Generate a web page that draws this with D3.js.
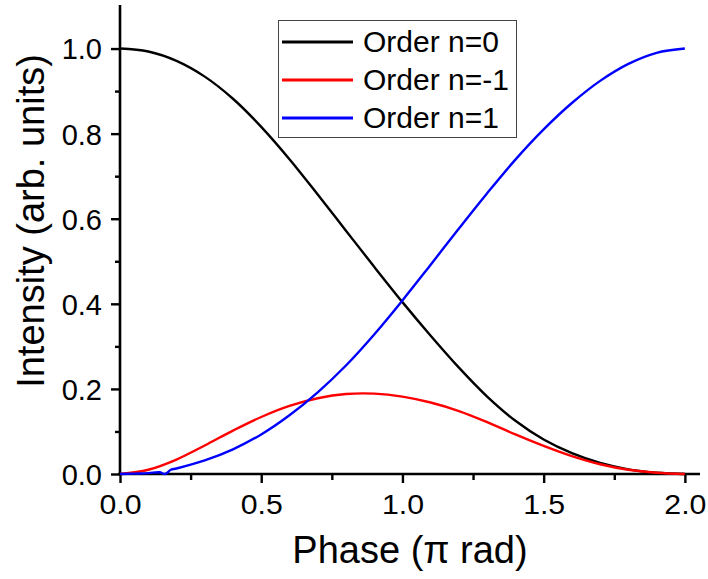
<html>
<script src="https://d3js.org/d3.v7.min.js"></script>
<style>
body { margin: 0; background: #fff; }
text { font-family: "Liberation Sans", Arial, sans-serif; fill: #000; }
</style>
<body>
<svg id="chart" width="708" height="579"></svg>
<script>
// phase values (pi rad) and the three diffraction orders
var phase = [0, 0.1, 0.2, 0.3, 0.4, 0.5, 0.6, 0.7, 0.8, 0.9, 1.0, 1.1, 1.2, 1.3, 1.4, 1.5, 1.6, 1.7, 1.8, 1.9, 2.0]
var order0 = [1.000, 0.993, 0.971, 0.934, 0.882, 0.816, 0.740, 0.657, 0.572, 0.487, 0.404, 0.325, 0.250, 0.182, 0.125, 0.081, 0.049, 0.026, 0.011, 0.003, 0.000]
var orderM1 = [0, 0.010, 0.034, 0.067, 0.102, 0.134, 0.160, 0.178, 0.188, 0.189, 0.182, 0.168, 0.148, 0.122, 0.093, 0.066, 0.042, 0.023, 0.010, 0.003, 0]
// n=1 has a small glitch near 0.15
var phaseP1 = [0, 0.05, 0.1, 0.14, 0.16, 0.18, 0.2, 0.3, 0.4, 0.5, 0.6, 0.7, 0.8, 0.9, 1.0, 1.1, 1.2, 1.3, 1.4, 1.5, 1.6, 1.7, 1.8, 1.9, 2.0]
var orderP1 = [0, 0.001, 0.002, 0.004, 0.000, 0.010, 0.013, 0.032, 0.058, 0.093, 0.138, 0.192, 0.255, 0.328, 0.408, 0.492, 0.577, 0.660, 0.739, 0.810, 0.872, 0.924, 0.964, 0.990, 1.000]

var xTicks = [0, 0.5, 1.0, 1.5, 2.0]
var xMinor = [0.25, 0.75, 1.25, 1.75]
var yTicks = [0, 0.2, 0.4, 0.6, 0.8, 1.0]
var yMinor = [0.1, 0.3, 0.5, 0.7, 0.9]

var legendNames = ["Order n=0", "Order n=-1", "Order n=1"]
var colors = ["#000000", "#ff0000", "#0000ff"]

var svg = d3.select("#chart")

var x = d3.scaleLinear().domain([0, 2.05]).range([120, 699])
var y = d3.scaleLinear().domain([0, 1.1]).range([474, 6])

// axes
var xAxis = svg.append("g").attr("transform", "translate(0,474)")
    .call(d3.axisBottom(x).tickValues(xTicks).tickSize(9).tickFormat(d3.format(".1f")))
svg.append("g").attr("transform", "translate(0,474)")
    .call(d3.axisBottom(x).tickValues(xMinor).tickSize(6).tickFormat(""))
    .call(g => g.select(".domain").remove())
var yAxis = svg.append("g").attr("transform", "translate(120,0)")
    .call(d3.axisLeft(y).tickValues(yTicks).tickSize(9).tickFormat(d3.format(".1f")))
svg.append("g").attr("transform", "translate(120,0)")
    .call(d3.axisLeft(y).tickValues(yMinor).tickSize(5).tickFormat(""))
    .call(g => g.select(".domain").remove())

xAxis.select(".domain").attr("d", "M118,0H700")
yAxis.select(".domain").attr("d", "M0,5V475")
svg.selectAll(".domain").attr("stroke-width", 2.6)
svg.selectAll(".tick line").attr("stroke-width", 2.4)

xAxis.selectAll(".tick text").attr("y", 20).attr("dy", "0.71em")
    .style("font-size", "28px").style("font-family", "Liberation Sans")
    .attr("transform", "scale(1.08,1)")
yAxis.selectAll(".tick text").attr("x", -18).attr("dy", "0.36em")
    .style("font-size", "29px").style("font-family", "Liberation Sans")

// curves
var line = d3.line().curve(d3.curveCatmullRom.alpha(0.5))
var series = [
    phase.map((p, i) => [x(p), y(order0[i])]),
    phase.map((p, i) => [x(p), y(orderM1[i])]),
    phaseP1.map((p, i) => [x(p), y(orderP1[i])])
]
series.forEach(function(s, i) {
    svg.append("path").attr("d", line(s)).attr("fill", "none")
        .attr("stroke", colors[i]).attr("stroke-width", 2.4)
})

// axis titles
svg.append("text").attr("x", 410).attr("y", 563).attr("text-anchor", "middle")
    .style("font-size", "38px").text("Phase (\u03c0 rad)")
svg.append("text").attr("transform", "translate(44,221) rotate(-90)").attr("text-anchor", "middle")
    .style("font-size", "38px").text("Intensity (arb. units)")

// legend
var legend = svg.append("g")
legend.append("rect").attr("x", 278.5).attr("y", 20.5).attr("width", 238).attr("height", 117)
    .attr("fill", "#fff").attr("stroke", "#444").attr("stroke-width", 1)
legendNames.forEach(function(name, i) {
    var ly = 42 + i * 38
    legend.append("line").attr("x1", 282).attr("x2", 353).attr("y1", ly).attr("y2", ly)
        .attr("stroke", colors[i]).attr("stroke-width", 3)
    legend.append("text").attr("x", 363).attr("y", ly + 10)
        .style("font-size", "30px").text(name)
})
</script>
</body>
</html>
